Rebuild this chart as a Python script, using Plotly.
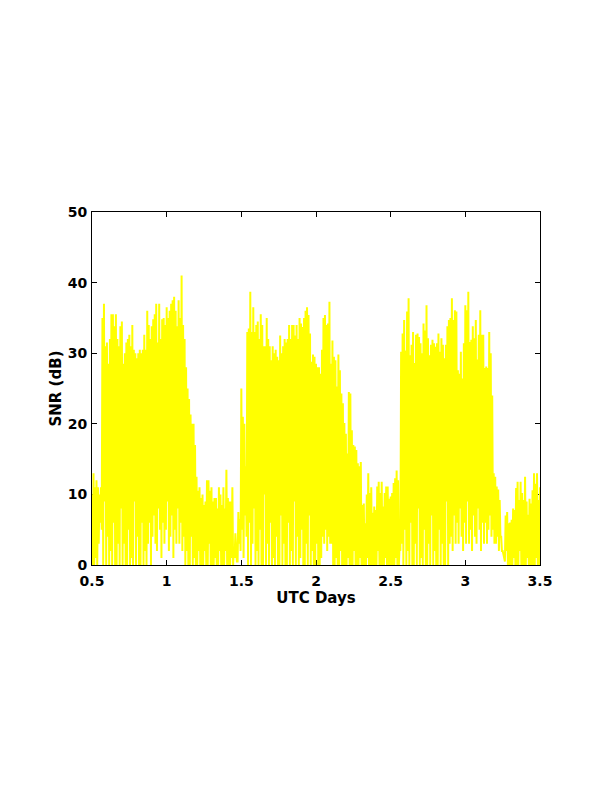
import numpy as np
import plotly.graph_objects as go

# Time grid (UTC days): envelope peaks every 0.01 day from 0.50 to 3.50
t_start = 0.50
t_step = 0.01

# SNR peak values (dB), one per 0.01 day (0.50 ... 3.50)
snr_peaks = [
    10, 13, 11, 12, 11, 10, 11, 35, 37, 31,                 # 0.50-0.59
    31.5, 28.5, 32, 35.5, 35.5, 33.8, 35.5, 32, 31, 33.8,   # 0.60-0.69
    34.5, 28.5, 30, 31.5, 32, 32.6, 31, 34, 30.5, 30,       # 0.70-0.79
    29.3, 30, 30.5, 30, 30.5, 32.6, 30.5, 36, 34, 32,       # 0.80-0.89
    33.8, 34.8, 35.5, 37, 31.5, 37, 32, 34.8, 35, 34,       # 0.90-0.99
    36.5, 35, 36, 37, 37.5, 38, 36, 33.8, 37.5, 35,         # 1.00-1.09
    41, 34, 32, 28, 25, 23.5, 21.3, 20, 20, 17,             # 1.10-1.19
    12.5, 10.5, 11, 9.5, 10, 8.5, 9, 12, 12, 10.5,          # 1.20-1.29
    11, 9, 9.5, 9.5, 8, 11, 10, 8.5, 11, 8,                 # 1.30-1.39
    13.5, 9.5, 9, 9, 11, 2.5, 4.5, 0.5, 7.5, 6.5,           # 1.40-1.49
    25, 21, 20, 14, 33, 33.5, 38.7, 33, 36.5, 33,           # 1.50-1.59
    34, 34.5, 32, 35.5, 34, 31, 31, 35, 32, 31,             # 1.60-1.69
    29, 31, 30, 30.5, 29.5, 29, 32.5, 30, 31, 32,           # 1.70-1.79
    31.5, 32, 34, 32, 34, 34, 32.5, 34, 32, 35,             # 1.80-1.89
    34.2, 33.7, 35, 36, 36.5, 35.4, 32.8, 28.8, 29.8, 29.5, # 1.90-1.99
    28.5, 28, 28, 27.1, 30.5, 35, 35.4, 34, 34.2, 37.3,     # 2.00-2.09
    28.5, 31.8, 29.5, 29, 25.3, 29.8, 27.6, 24.3, 22.9, 20.1, # 2.10-2.19
    18.6, 15.8, 24.5, 24.3, 19.1, 17, 16.8, 16.3, 14.4, 14, # 2.20-2.29
    14.6, 8.5, 8.7, 5.9, 10, 13, 10.2, 11, 7.4, 8.3,        # 2.30-2.39
    7.8, 11.1, 11.8, 10.2, 11.8, 8.3, 10.2, 11.1, 11.1, 9.4, # 2.40-2.49
    9.7, 10.2, 11.6, 12.3, 13.4, 12, 3, 30.2, 32.8, 34.7,   # 2.50-2.59
    30.4, 35.9, 37.8, 29.7, 31.2, 33, 28.6, 32.6, 32.8, 32.3, # 2.60-2.69
    31.4, 30, 34.2, 33.2, 36.8, 32.1, 29.7, 31.2, 31.9, 31.4, # 2.70-2.79
    30.9, 31.4, 32.8, 30.2, 32.1, 31.2, 29.3, 31.2, 33.8, 34.7, # 2.80-2.89
    35, 37.8, 34.7, 36.1, 35.9, 27.6, 27.1, 30.2, 26.4, 31.4, # 2.90-2.99
    36.8, 36.1, 38.7, 31.6, 31.9, 33.8, 32.1, 34.7, 29.1, 32.6, # 3.00-3.09
    36.1, 32.6, 32.6, 27.9, 28.1, 27.9, 33, 30, 24, 13,     # 3.10-3.19
    12.5, 11.1, 10.7, 9.2, 4, 2, 1, 7, 7.5, 5.9,            # 3.20-3.29
    6, 6.4, 8, 7.8, 10.9, 11.8, 9.2, 11.8, 10.2, 9.2,       # 3.30-3.39
    12.5, 9, 7.1, 9.4, 8.7, 10.6, 13, 11.5, 13, 9.2,        # 3.40-3.49
    11,                                                     # 3.50
]

# SNR trough values (dB) between consecutive peaks (0.505 ... 3.495)
snr_troughs = [
    0, 0, 1, 0, 3, 6, 5, 0, 9, 0,
    4, 0, 2, 0, 6, 0, 0, 3, 0, 8,
    0, 3, 0, 0, 5, 0, 1, 0, 9, 0,
    4, 0, 0, 6, 0, 2, 0, 3, 6, 0,
    4, 7, 3, 2, 8, 5, 1, 6, 3, 5,
    9, 2, 4, 7, 1, 5, 3, 8, 3, 6,
    2, 4, 0, 2, 0, 0, 4, 0, 1, 0,
    0, 2, 0, 0, 0, 2, 0, 0, 3, 0,
    0, 0, 1, 0, 0, 2, 0, 0, 0, 2,
    0, 0, 0, 1, 0, 1, 2, 0.5, 3, 2,
    5, 1, 7, 4, 0, 6, 0, 3, 8, 0,
    2, 0, 5, 0, 0, 10, 0, 3, 0, 6,
    0, 1, 0, 4, 0, 0, 7, 0, 3, 0,
    0, 6, 0, 2, 0, 9, 0, 4, 0, 1,
    5, 0, 0, 3, 0, 7, 0, 2, 0, 0,
    3, 0, 0, 1, 4, 3, 5, 2, 4, 3,
    3, 0, 0, 1, 0, 0, 2, 0, 0, 0,
    0, 1, 0, 0, 0, 2, 0, 0, 0, 1,
    0, 0, 0, 0, 1, 0, 0, 0, 0, 0,
    0, 2, 0, 0, 0, 0, 1, 0, 0, 0,
    0, 0, 0, 1, 0, 0, 2, 3, 0, 5,
    0, 2, 0, 6, 0, 0, 3, 0, 8, 0,
    1, 0, 5, 0, 0, 3, 0, 7, 0, 2,
    0, 0, 5, 0, 3, 0, 0, 9, 0, 3,
    4, 2, 7, 3, 6, 3, 8, 4, 2, 6,
    3, 9, 3, 5, 2, 7, 4, 3, 8, 5,
    2, 6, 3, 6, 3, 5, 7, 4, 5, 3,
    3, 4, 2, 4, 2, 1.5, 0.5, 2, 0, 0,
    0, 0, 1, 0, 0, 0, 2, 0, 0, 0,
    0, 1, 0, 0, 0, 0, 0, 1, 0, 0,
]

x_tick_vals = [0.5, 1, 1.5, 2, 2.5, 3, 3.5]
x_tick_text = ["0.5", "1", "1.5", "2", "2.5", "3", "3.5"]
y_tick_vals = [0, 10, 20, 30, 40, 50]
y_tick_text = ["0", "10", "20", "30", "40", "50"]

# interleave peaks and troughs into one zig-zag line
n = len(snr_peaks)
t_peaks = t_start + t_step * np.arange(n)
t_troughs = t_peaks[:-1] + t_step / 2
xs, ys = [], []
for i in range(n):
    xs.append(float(t_peaks[i]))
    ys.append(snr_peaks[i])
    if i < len(snr_troughs):
        xs.append(float(t_troughs[i]))
        ys.append(snr_troughs[i])

fig = go.Figure()
fig.add_trace(go.Scatter(
    x=xs, y=ys, mode="lines",
    line=dict(color="#FFFF00", width=2),
    hoverinfo="skip", showlegend=False,
))

# the page body has an 8px default margin, so margins are offset by 8px
font_family = "DejaVu Sans, Liberation Sans, Arial, sans-serif"
fig.update_layout(
    width=612, height=792,
    margin=dict(l=84, r=80, t=204, b=235, pad=0),
    paper_bgcolor="white", plot_bgcolor="white",
    font=dict(family=font_family, size=14, color="black", weight="bold"),
    showlegend=False,
)
fig.update_xaxes(
    range=[0.5, 3.5], tickmode="array", tickvals=x_tick_vals, ticktext=x_tick_text,
    ticks="inside", ticklen=5, tickwidth=1, tickcolor="black",
    showline=True, linecolor="black", linewidth=1, mirror="ticks",
    showgrid=False, zeroline=False, layer="below traces",
    automargin=False, ticklabelstandoff=3,
    title=dict(text="UTC Days", standoff=2,
               font=dict(size=15, weight="bold")),
    tickfont=dict(size=14, weight="bold"),
)
fig.update_yaxes(
    range=[0, 50], tickmode="array", tickvals=y_tick_vals, ticktext=y_tick_text,
    ticks="inside", ticklen=5, tickwidth=1, tickcolor="black",
    showline=True, linecolor="black", linewidth=1, mirror="ticks",
    showgrid=False, zeroline=False, layer="below traces",
    automargin=False, ticklabelstandoff=1,
    title=dict(text="SNR (dB)", standoff=2,
               font=dict(size=15, weight="bold")),
    tickfont=dict(size=14, weight="bold"),
)

fig.write_html("out.html")
